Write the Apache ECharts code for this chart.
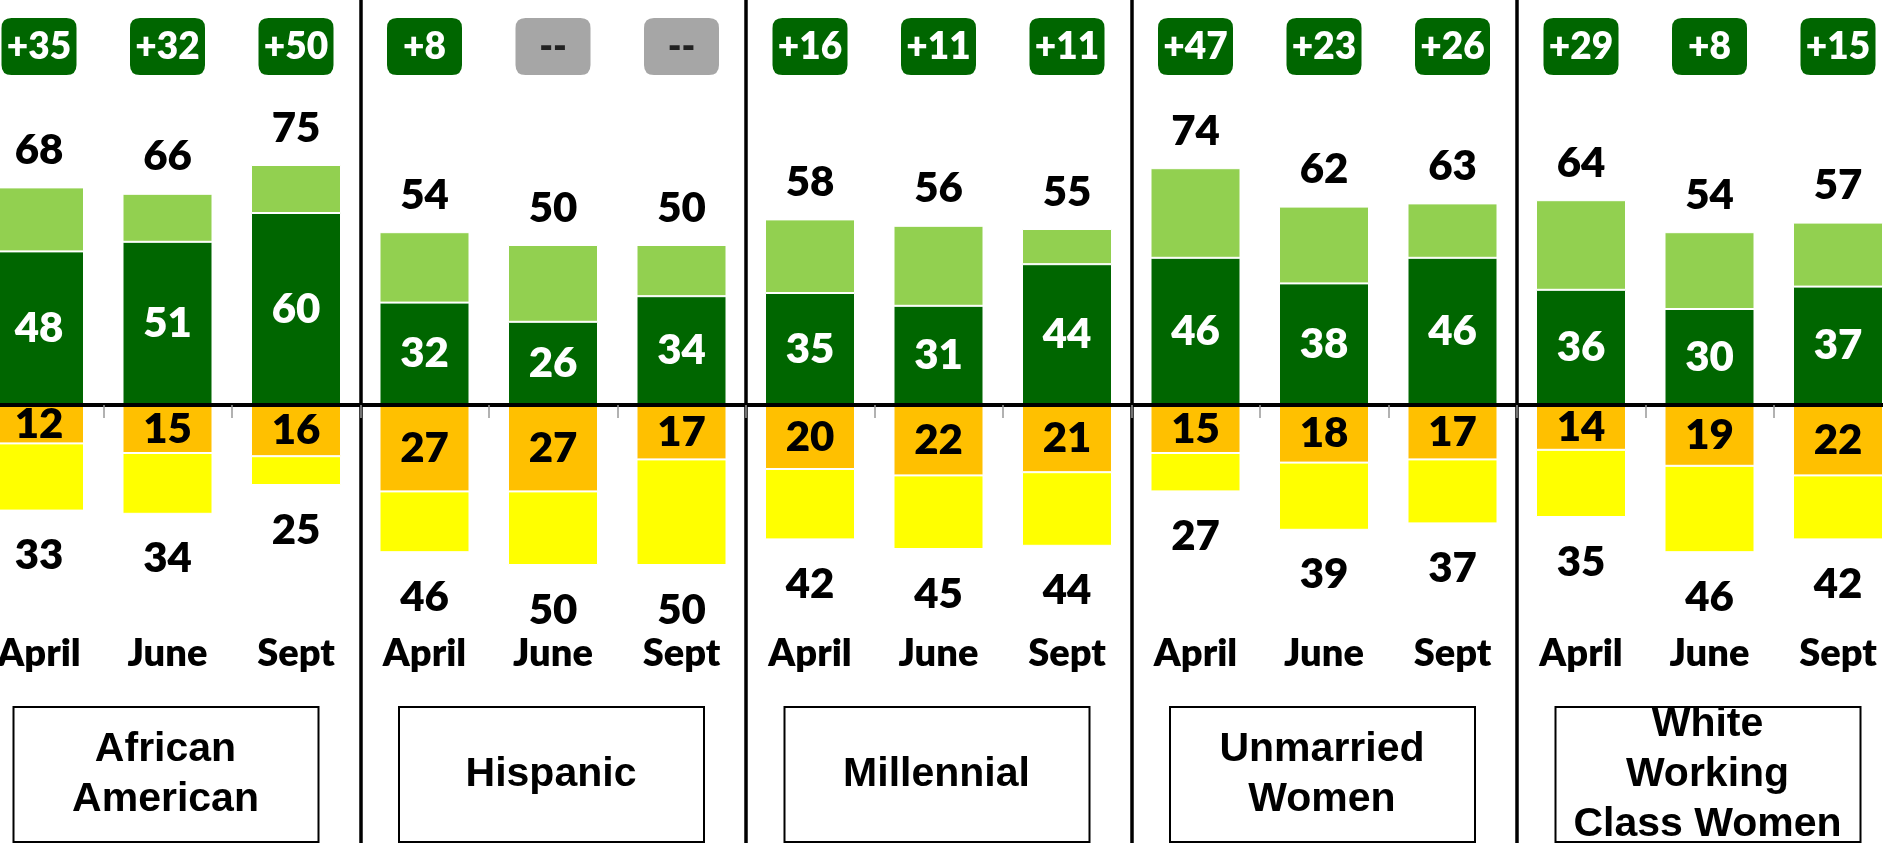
<!DOCTYPE html>
<html>
<head>
    <meta charset="utf-8">
    <title>Vote by group</title>
    <script type="text/javascript" src="https://cdn.jsdelivr.net/npm/echarts@6/dist/echarts.min.js"></script>
    <style>
        html, body { margin: 0; padding: 0; background: #fff; }
    </style>
</head>
<body>
<div id="main" style="width: 1883px;height:843px;"></div>

<script type="text/javascript">
    // data
    var months = ['April', 'June', 'Sept', 'April', 'June', 'Sept', 'April', 'June', 'Sept',
                  'April', 'June', 'Sept', 'April', 'June', 'Sept'];
    var groups = ['African\nAmerican', 'Hispanic', 'Millennial', 'Unmarried\nWomen', 'White\nWorking\nClass Women'];
    var totalPos  = [68, 66, 75, 54, 50, 50, 58, 56, 55, 74, 62, 63, 64, 54, 57];
    var strongPos = [48, 51, 60, 32, 26, 34, 35, 31, 44, 46, 38, 46, 36, 30, 37];
    var strongNeg = [12, 15, 16, 27, 27, 17, 20, 22, 21, 15, 18, 17, 14, 19, 22];
    var totalNeg  = [33, 34, 25, 46, 50, 50, 42, 45, 44, 27, 39, 37, 35, 46, 42];
    var netLabels = ['+35', '+32', '+50', '+8', '--', '--', '+16', '+11', '+11',
                     '+47', '+23', '+26', '+29', '+8', '+15'];

    var DARK = '#006600', LIGHT = '#92D050', ORANGE = '#FFC000', YELLOW = '#FFFF00', GREY = '#A6A6A6';
    var WEIGHT = 800;
    var numFont = { fontFamily: 'Lato', fontWeight: WEIGHT, fontSize: 42, lineHeight: 42 };

    // stacked segments
    var softPos = totalPos.map(function (t, i) { return t - strongPos[i]; });
    var strongNegVals = strongNeg.map(function (v) { return -v; });
    var softNeg = totalNeg.map(function (t, i) { return -(t - strongNeg[i]); });
    var badgeLevel = 112;
    var badgePath = 'path://M10,0H65Q75,0 75,10V47Q75,57 65,57H10Q0,57 0,47V10Q0,0 10,0Z';

    var chart = echarts.init(document.getElementById('main'));

    var barItem = function (color) {
        return { color: color, borderColor: '#fff', borderWidth: 1 };
    };

    var option = {
        animation: false,
        backgroundColor: '#fff',
        grid: { left: -25.25, right: -19.25, top: 0, bottom: 0, containLabel: false, outerBoundsMode: 'none' },
        xAxis: [{
            type: 'category',
            data: months,
            z: 5,
            axisLine: { onZero: true, lineStyle: { color: '#000', width: 4 } },
            axisTick: { show: true, interval: 0, length: 13, lineStyle: { color: '#999', width: 1.5 } },
            axisLabel: { show: false },
            splitLine: {
                show: true,
                interval: function (index) { return index > 0 && index % 3 === 0; },
                lineStyle: { color: '#000', width: 3.5 }
            }
        }, {
            // month names, sitting above the group boxes
            type: 'category',
            data: months,
            position: 'bottom',
            offset: -216,
            axisLine: { show: false, onZero: false },
            axisTick: { show: false },
            splitLine: { show: false },
            axisLabel: {
                interval: 0, margin: 8, color: '#000',
                fontFamily: 'Lato', fontWeight: WEIGHT, fontSize: 38
            }
        }],
        yAxis: { type: 'value', min: -136.875, max: 126.5625, show: false },
        series: [
            {
                name: 'Strong positive', type: 'bar', stack: 'v', barWidth: 90,
                data: strongPos, itemStyle: barItem(DARK),
                label: Object.assign({ show: true, position: 'inside', color: '#fff' }, numFont)
            },
            {
                name: 'Positive', type: 'bar', stack: 'v', barWidth: 90,
                data: softPos, itemStyle: barItem(LIGHT),
                label: Object.assign({
                    show: true, position: 'top', distance: 16, color: '#000',
                    formatter: function (p) { return totalPos[p.dataIndex]; }
                }, numFont)
            },
            {
                name: 'Strong negative', type: 'bar', stack: 'v', barWidth: 90,
                data: strongNegVals, itemStyle: barItem(ORANGE),
                label: Object.assign({
                    show: true, position: 'inside', color: '#000',
                    formatter: function (p) { return strongNeg[p.dataIndex]; }
                }, numFont)
            },
            {
                name: 'Negative', type: 'bar', stack: 'v', barWidth: 90,
                data: softNeg, itemStyle: barItem(YELLOW),
                label: Object.assign({
                    show: true, position: 'bottom', distance: 24, color: '#000',
                    formatter: function (p) { return totalNeg[p.dataIndex]; }
                }, numFont)
            },
            {
                name: 'Net', type: 'scatter',
                symbol: badgePath, symbolKeepAspect: false, symbolSize: [75, 57],
                data: netLabels.map(function (t, i) {
                    return t === '--' ? { value: [i, badgeLevel], label: { color: '#222' } } : [i, badgeLevel];
                }),
                itemStyle: {
                    opacity: 1,
                    color: function (p) { return netLabels[p.dataIndex] === '--' ? GREY : DARK; }
                },
                label: {
                    show: true, position: 'inside',
                    fontFamily: 'Lato', fontWeight: WEIGHT, fontSize: 37,
                    color: '#fff',
                    formatter: function (p) { return netLabels[p.dataIndex]; }
                }
            },
            {
                name: 'Groups', type: 'custom',
                data: groups.map(function (g, i) { return [i * 3 + 1, 0]; }),
                renderItem: function (params, api) {
                    var x = api.coord([api.value(0), 0])[0] - 2;
                    return {
                        type: 'group',
                        children: [
                            {
                                type: 'rect',
                                shape: { x: x - 152, y: 707, width: 305, height: 135 },
                                style: { fill: 'transparent', stroke: '#000', lineWidth: 2 }
                            },
                            {
                                type: 'text',
                                style: {
                                    x: x, y: 775, text: groups[params.dataIndex],
                                    align: 'center', verticalAlign: 'middle',
                                    fontFamily: 'Liberation Sans', fontWeight: 'bold', fontSize: 41,
                                    lineHeight: 50, fill: '#000'
                                }
                            }
                        ]
                    };
                }
            }
        ]
    };
    chart.setOption(option);
</script>
</body>
</html>
